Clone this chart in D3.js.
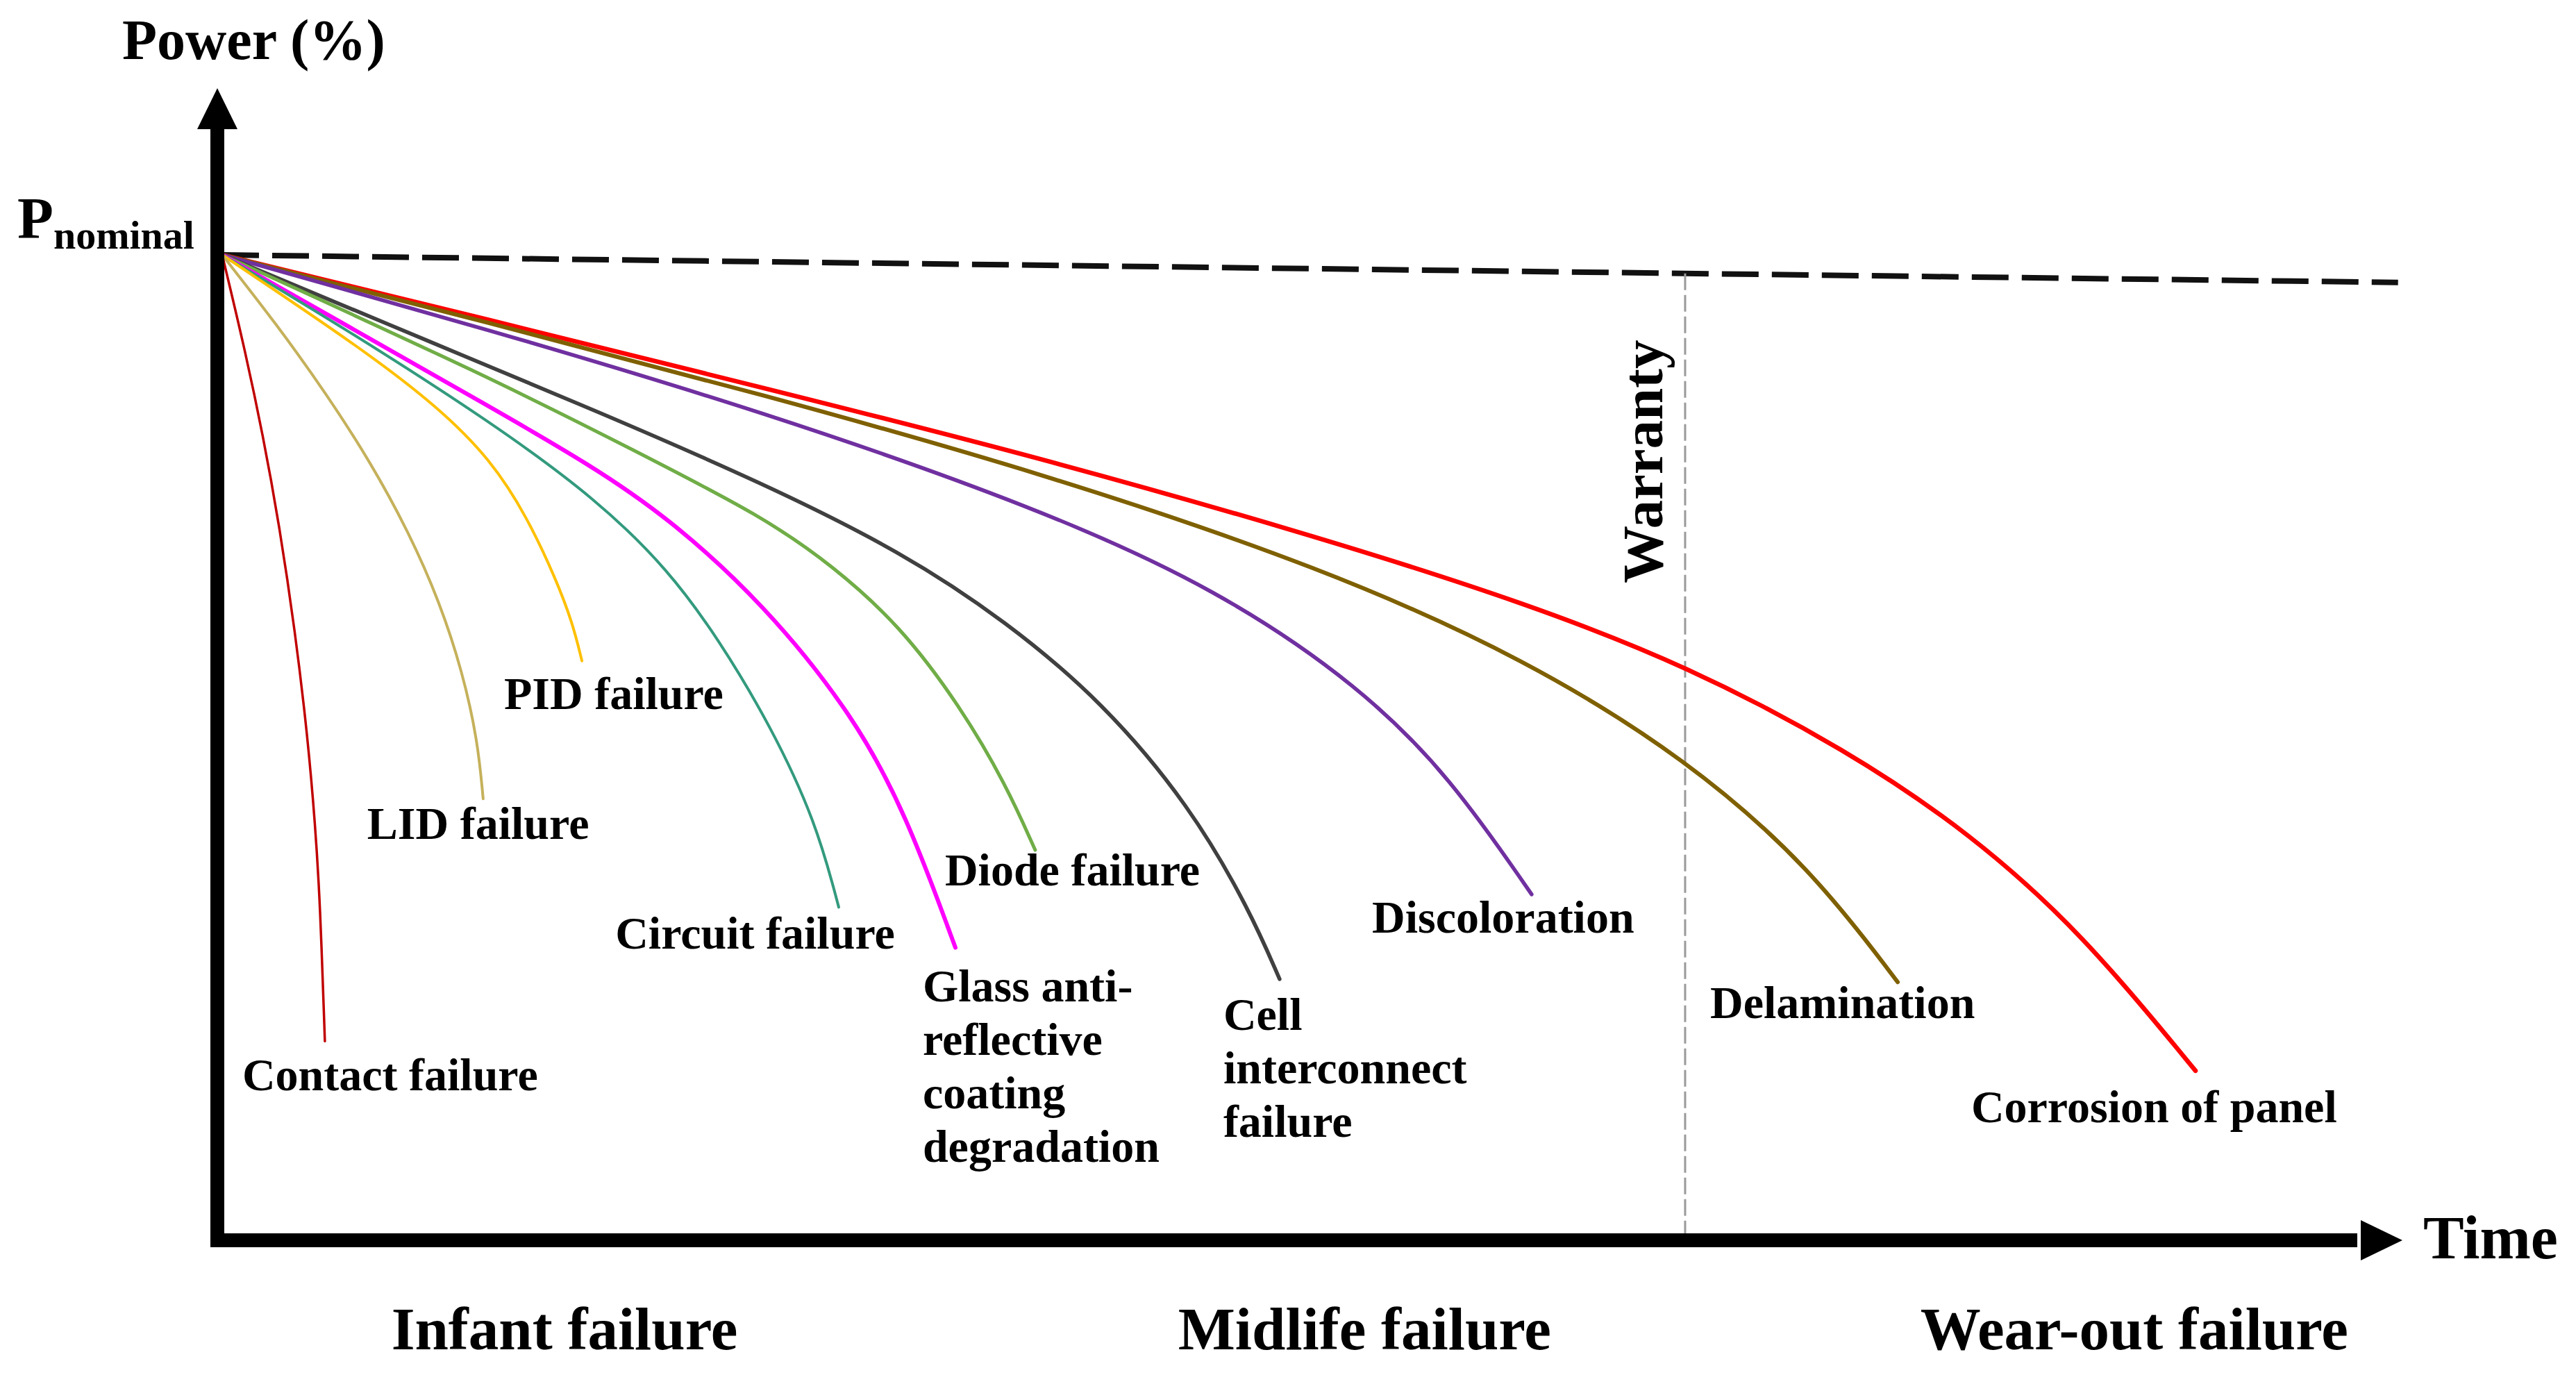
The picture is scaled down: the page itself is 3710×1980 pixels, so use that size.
<!DOCTYPE html>
<html>
<head>
<meta charset="utf-8">
<script src="https://cdn.jsdelivr.net/npm/d3@7"></script>
<style>
  html, body { margin: 0; padding: 0; background: #ffffff; }
  svg { display: block; }
  text { font-family: "Liberation Serif", "Times New Roman", serif; font-weight: bold; fill: #000; }
</style>
</head>
<body>
<script>
// ---------------- DATA (time in % of lifetime, power in % of nominal) ----------------
const contactFailure   = [[0,100],[1.02,90.6],[1.88,81.6],[2.61,72.7],[3.34,61.9],[3.92,51.1],[4.27,42.1],[4.49,34.3],[4.71,20.2]];
const lidFailure       = [[0,100],[2.48,93.0],[4.78,85.9],[6.82,78.9],[8.57,71.8],[9.97,64.8],[11.02,57.7],[11.72,50.7],[11.97,44.8]];
const pidFailure       = [[0,100],[6.34,90.6],[9.94,84.5],[12.36,79.1],[13.98,73.4],[15.29,67.2],[16.08,62.6],[16.50,58.8]];
const circuitFailure   = [[0,100],[5.73,92.4],[12.36,83.0],[17.23,75.1],[20.48,68.0],[22.77,61.0],[25.16,52.2],[27.23,42.5],[28.28,33.8]];
const glassCoating     = [[0,100],[7.17,91.0],[12.10,84.8],[16.88,78.7],[20.48,73.3],[24.84,64.6],[28.98,53.2],[31.40,43.1],[33.63,29.7]];
const diodeFailure     = [[0,100],[12.36,87.5],[18.85,80.2],[24.84,73.4],[28.03,68.4],[31.08,62.4],[33.85,54.2],[35.96,46.2],[37.29,39.6]];
const cellInterconnect = [[0,100],[9.94,90.8],[17.23,84.1],[24.84,76.8],[31.21,69.8],[35.96,62.8],[40.35,54.7],[44.39,44.1],[47.13,33.5],[48.50,26.5]];
const discoloration    = [[0,100],[12.10,92.5],[24.84,84.1],[37.58,74.2],[45.70,66.0],[52.20,56.2],[56.37,46.9],[60.06,35.1]];
const delamination     = [[0,100],[12.10,93.2],[24.84,85.8],[37.58,77.9],[50.57,68.2],[59.87,58.9],[67.20,48.8],[72.87,37.8],[76.85,26.2]];
const corrosionPanel   = [[0,100],[12.10,93.5],[24.84,86.5],[37.58,79.4],[50.57,71.2],[59.87,64.6],[67.20,58.3],[74.49,49.8],[80.19,41.3],[85.35,31.1],[90.51,17.2]];

const nominalLine  = [[0,100],[99.8,97.2]];   // guaranteed power line
const warrantyTime = 67.1;                     // end of warranty
const phaseNames   = ["Infant failure", "Midlife failure", "Wear-out failure"];
const phaseCenters = [15.7, 52.4, 87.7];

// series table: name, points, colour, label lines, label anchor (data units), stroke width
const series = [
  { name: "Corrosion of panel", pts: corrosionPanel,   color: "#ff0000", w: 6.5, lines: ["Corrosion of panel"], at: [80.22, 11.98] },
  { name: "Delamination",       pts: delamination,     color: "#7f6000", w: 6,   lines: ["Delamination"],       at: [68.25, 22.55] },
  { name: "Discoloration",      pts: discoloration,    color: "#7030a0", w: 5.5, lines: ["Discoloration"],      at: [52.74, 31.22] },
  { name: "Cell interconnect",  pts: cellInterconnect, color: "#404040", w: 5.5, lines: ["Cell","interconnect","failure"], at: [45.92, 21.35] },
  { name: "Diode failure",      pts: diodeFailure,     color: "#70ad47", w: 5,   lines: ["Diode failure"],      at: [33.15, 36.01] },
  { name: "Glass coating",      pts: glassCoating,     color: "#ff00ff", w: 6,   lines: ["Glass anti-","reflective","coating","degradation"], at: [32.13, 24.24] },
  { name: "Circuit failure",    pts: circuitFailure,   color: "#339a7e", w: 4,   lines: ["Circuit failure"],    at: [18.03, 29.60] },
  { name: "PID failure",        pts: pidFailure,       color: "#ffc000", w: 4,   lines: ["PID failure"],        at: [12.93, 53.91] },
  { name: "LID failure",        pts: lidFailure,       color: "#c5b15b", w: 4,   lines: ["LID failure"],        at: [6.65, 40.73] },
  { name: "Contact failure",    pts: contactFailure,   color: "#c00000", w: 3.5, lines: ["Contact failure"],    at: [0.92, 15.22] }
];

// ---------------- LAYOUT ----------------
const W = 3710, H = 1980;
const x = d3.scaleLinear().domain([0, 100]).range([320, 3460]);
const y = d3.scaleLinear().domain([0, 100]).range([1786, 367]);

const svg = d3.select("body").append("svg").attr("width", W).attr("height", H);
svg.append("rect").attr("width", W).attr("height", H).attr("fill", "#fff");

const line = d3.line().x(d => x(d[0])).y(d => y(d[1])).curve(d3.curveBasis);

// nominal (guaranteed) dashed line
svg.append("path").datum(nominalLine)
  .attr("d", d3.line().x(d => x(d[0])).y(d => y(d[1])))
  .attr("fill", "none").attr("stroke", "#111").attr("stroke-width", 8)
  .attr("stroke-dasharray", "53,19");

// warranty dashed vertical line
const nomAt = t => nominalLine[0][1] + (nominalLine[1][1] - nominalLine[0][1]) * t / nominalLine[1][0];
svg.append("line")
  .attr("x1", x(warrantyTime)).attr("x2", x(warrantyTime))
  .attr("y1", y(nomAt(warrantyTime))).attr("y2", y(0))
  .attr("stroke", "#9a9a9a").attr("stroke-width", 3).attr("stroke-dasharray", "24,7");

svg.append("text")
  .attr("transform", `translate(${x(warrantyTime) - 33},840) rotate(-90)`)
  .attr("font-size", 83).text("Warranty");

// failure curves
svg.append("g").selectAll("path").data(series).join("path")
  .attr("d", d => line(d.pts))
  .attr("fill", "none")
  .attr("stroke", d => d.color)
  .attr("stroke-width", d => d.w)
  .attr("stroke-linecap", "round");

// curve labels
const lab = svg.append("g").selectAll("text").data(series).join("text")
  .attr("font-size", 66)
  .attr("x", d => x(d.at[0]))
  .attr("y", d => y(d.at[1]));
lab.selectAll("tspan").data(d => d.lines.map(l => ({ l, x: x(d.at[0]) }))).join("tspan")
  .attr("x", d => d.x)
  .attr("dy", (d, i) => i === 0 ? 0 : 77)
  .text(d => d.l);

// axes (thick arrows)
const axX0 = x(0) - 7, axY0 = y(0);
svg.append("line").attr("x1", axX0).attr("x2", axX0).attr("y1", 180).attr("y2", axY0 + 10)
  .attr("stroke", "#000").attr("stroke-width", 20);
svg.append("path").attr("d", `M${axX0},127 L${axX0 + 29},186 L${axX0 - 29},186 Z`).attr("fill", "#000");
svg.append("line").attr("x1", axX0 - 10).attr("x2", x(100) - 65).attr("y1", axY0).attr("y2", axY0)
  .attr("stroke", "#000").attr("stroke-width", 20);
svg.append("path").attr("d", `M${x(100)},${axY0} L${x(100) - 60},${axY0 - 29} L${x(100) - 60},${axY0 + 29} Z`).attr("fill", "#000");

// axis titles
svg.append("text").attr("x", 176).attr("y", 85).attr("font-size", 82).text("Power (%)");
const pn = svg.append("text").attr("x", 25).attr("y", 343).attr("font-size", 85);
pn.append("tspan").text("P");
pn.append("tspan").attr("font-size", 58).attr("dy", 15).text("nominal");
svg.append("text").attr("x", x(100) + 30).attr("y", 1812).attr("font-size", 88).text("Time");

// phase labels
svg.append("g").selectAll("text").data(phaseNames).join("text")
  .attr("x", (d, i) => x(phaseCenters[i]))
  .attr("y", 1943)
  .attr("text-anchor", "middle")
  .attr("font-size", 87)
  .text(d => d);
</script>
</body>
</html>
